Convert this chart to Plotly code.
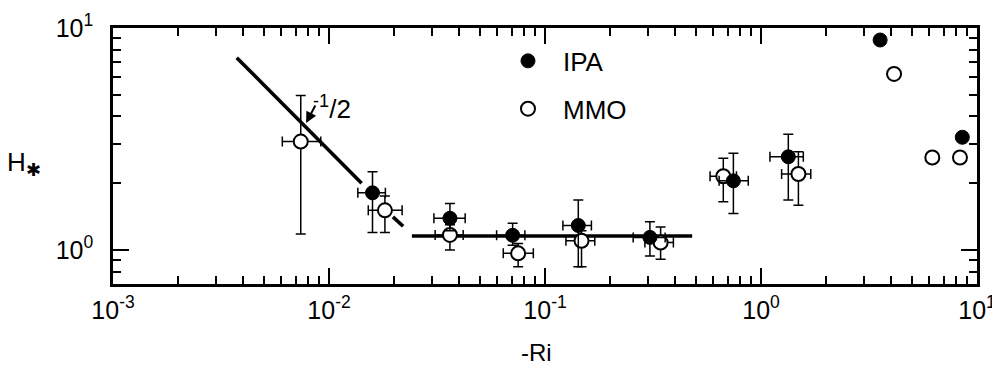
import plotly.graph_objects as go
import numpy as np

# ---- data ----
# IPA points with error bars
ipa_x = [0.0159, 0.0363, 0.0708, 0.1426, 0.306, 0.745, 1.338]
ipa_y = [1.81, 1.39, 1.165, 1.29, 1.14, 2.05, 2.63]
ipa_y_hi = [2.25, 1.62, 1.32, 1.68, 1.34, 2.73, 3.32]
ipa_y_lo = [1.20, 1.22, 1.05, 0.841, 0.94, 1.46, 1.68]
ipa_x_lo = [0.0136, 0.0306, 0.0597, 0.121, 0.256, 0.64, 1.10]
ipa_x_hi = [0.01824, 0.0427, 0.0807, 0.164, 0.36, 0.873, 1.57]
# IPA points without error bars
ipa2_x = [3.56, 8.55]
ipa2_y = [8.83, 3.22]

# MMO points with error bars
mmo_x = [0.0074, 0.01815, 0.0363, 0.0751, 0.1476, 0.343, 0.669, 1.49]
mmo_y = [3.08, 1.51, 1.17, 0.966, 1.10, 1.08, 2.15, 2.20]
mmo_y_hi = [4.96, 1.75, 1.30, 1.07, 1.22, 1.27, 2.59, 2.77]
mmo_y_lo = [1.18, 1.20, 1.00, 0.841, 0.841, 0.908, 1.65, 1.59]
mmo_x_lo = [0.00608, 0.0152, 0.031, 0.0641, 0.125, 0.29, 0.581, 1.246]
mmo_x_hi = [0.00916, 0.0218, 0.0418, 0.0883, 0.170, 0.393, 0.77, 1.70]
# MMO points without error bars
mmo2_x = [4.13, 6.21, 8.34]
mmo2_y = [6.21, 2.61, 2.61]

# fitted curves
slope_x = [0.00374, 0.01416]
slope_y = [7.35, 2.0]
trans_x = [0.01977, 0.02203]
trans_y = [1.41, 1.28]
flat_x = [0.0242, 0.48]
flat_y = [1.156, 1.156]

# tick labels
x_tickvals = [0.001, 0.01, 0.1, 1, 10]
x_ticktext = ["10<sup>-3</sup>", "10<sup>-2</sup>", "10<sup>-1</sup>", "10<sup>0</sup>", "10<sup>1</sup>"]
y_tickvals = [1, 10]
y_ticktext = ["10<sup>0</sup>", "10<sup>1</sup>"]

FONT = "Liberation Sans"


def err(vals, ref, upper=True):
    v = np.array(vals)
    r = np.array(ref)
    return list(v - r) if upper else list(r - v)


fig = go.Figure()

for cx, cy in [(slope_x, slope_y), (trans_x, trans_y), (flat_x, flat_y)]:
    fig.add_trace(go.Scatter(x=cx, y=cy, mode="lines",
                             line=dict(color="black", width=3.6),
                             showlegend=False, hoverinfo="skip"))

ebar = dict(type="data", symmetric=False, color="black", thickness=1.5, width=5)

fig.add_trace(go.Scatter(
    x=mmo_x, y=mmo_y, mode="markers", showlegend=False,
    marker=dict(symbol="circle", size=14, color="white",
                line=dict(color="black", width=2)),
    error_y=dict(ebar, array=err(mmo_y_hi, mmo_y), arrayminus=err(mmo_y_lo, mmo_y, False)),
    error_x=dict(ebar, array=err(mmo_x_hi, mmo_x), arrayminus=err(mmo_x_lo, mmo_x, False)),
))
fig.add_trace(go.Scatter(
    x=ipa_x, y=ipa_y, mode="markers", showlegend=False,
    marker=dict(symbol="circle", size=14, color="black",
                line=dict(color="black", width=1)),
    error_y=dict(ebar, array=err(ipa_y_hi, ipa_y), arrayminus=err(ipa_y_lo, ipa_y, False)),
    error_x=dict(ebar, array=err(ipa_x_hi, ipa_x), arrayminus=err(ipa_x_lo, ipa_x, False)),
))

fig.add_trace(go.Scatter(
    x=ipa2_x, y=ipa2_y, mode="markers", name="IPA", legendgroup="a",
    marker=dict(symbol="circle", size=14, color="black",
                line=dict(color="black", width=1)),
))
fig.add_trace(go.Scatter(
    x=mmo2_x, y=mmo2_y, mode="markers", name="MMO", legendgroup="b",
    marker=dict(symbol="circle", size=14, color="white",
                line=dict(color="black", width=2)),
))

axis_common = dict(
    type="log", showline=True, linewidth=2.5, linecolor="black",
    mirror="allticks", ticks="inside", ticklen=16, tickwidth=2,
    tickcolor="black", showgrid=False, zeroline=False, automargin=False,
    tickmode="array",
    tickfont=dict(family=FONT, size=25, color="black"),
    minor=dict(ticks="inside", ticklen=8, tickwidth=1.5, dtick="D1",
               tickcolor="black", showgrid=False),
)

# the page body has an 8px margin, so the figure is 8px smaller on each axis
fig.update_layout(
    width=992, height=360,
    margin=dict(l=105, r=23, t=20, b=84),
    paper_bgcolor="white", plot_bgcolor="white",
    font=dict(family=FONT, color="black"),
    xaxis=dict(axis_common, range=[-3, 1], ticklabelstandoff=2,
               tickvals=x_tickvals, ticktext=x_ticktext),
    yaxis=dict(axis_common, range=[-0.153, 1], ticklabelstandoff=12,
               tickvals=y_tickvals, ticktext=y_ticktext),
    legend=dict(x=0.4398, y=0.963, xanchor="left", yanchor="top",
                bgcolor="rgba(0,0,0,0)", borderwidth=0, itemwidth=60,
                font=dict(family=FONT, size=26, color="black"),
                tracegroupgap=11),
    annotations=[
        # arrow pointing at the -1/2 slope line
        dict(x=-2.106, y=0.572, xref="x", yref="y", text="",
             showarrow=True, ax=10, ay=-19, arrowhead=2, arrowsize=1.1,
             arrowwidth=2, arrowcolor="black"),
        dict(x=-2.083, y=0.644, xref="x", yref="y",
             text="<sup>-1</sup>/2", showarrow=False, xanchor="left", yanchor="middle",
             font=dict(family=FONT, size=26, color="black")),
        # y-axis title (horizontal)
        dict(x=(24 - 113) / 864, y=(284 - 163) / 256, xref="paper", yref="paper",
             text="H<sub>✱</sub>", xanchor="center", yanchor="middle",
             showarrow=False, font=dict(family=FONT, size=26, color="black")),
        # x-axis title
        dict(x=(536 - 113) / 864, y=(284 - 352) / 256, xref="paper", yref="paper",
             text="-Ri", xanchor="center", yanchor="middle",
             showarrow=False, font=dict(family=FONT, size=24, color="black")),
    ],
)

fig.write_html("out.html")
